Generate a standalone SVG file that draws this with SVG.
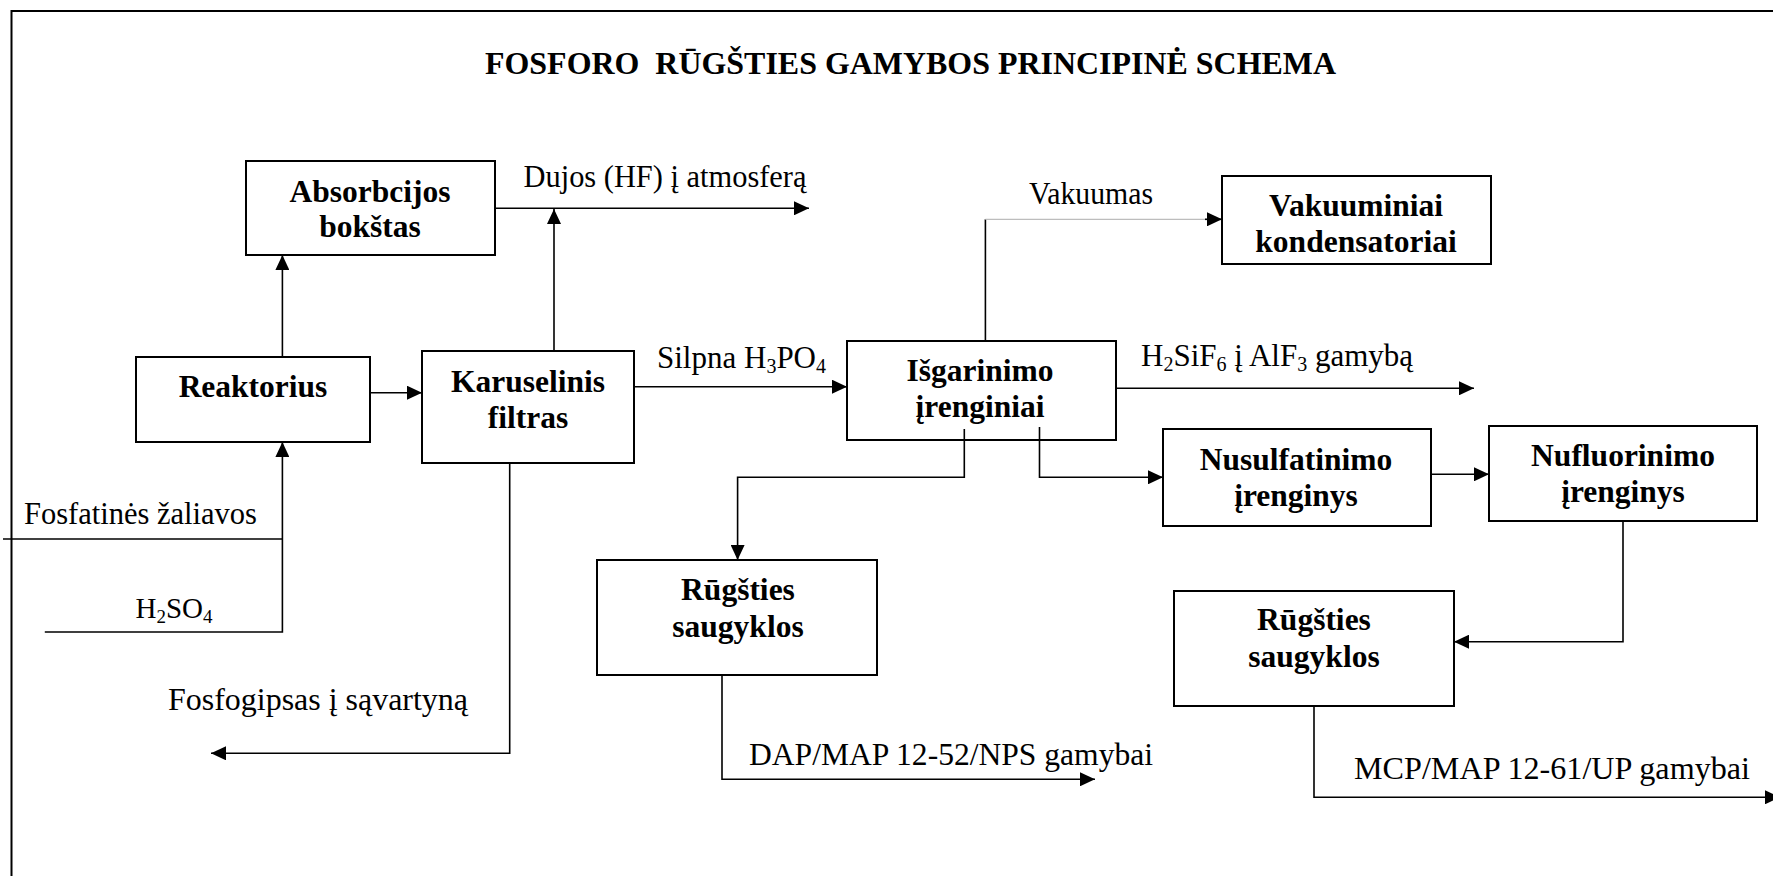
<svg xmlns="http://www.w3.org/2000/svg" width="1773" height="876" viewBox="0 0 1773 876">
  <style>
    text { font-family: "Liberation Serif", "Times New Roman", serif; fill: #000; }
    .title { font-size: 31.5px; font-weight: bold; }
    .node rect { fill: #fff; stroke: #000; stroke-width: 2; }
    .node text { font-size: 31.5px; font-weight: bold; text-anchor: middle; }
    .lbl { font-size: 31px; }
    .sub { font-size: 20px; }
    .conn { fill: none; stroke: #000; stroke-width: 1.6; }
    .grey { fill: none; stroke: #bdbdbd; stroke-width: 1.2; }
  </style>
  <defs>
    <marker id="arrow" markerUnits="userSpaceOnUse" markerWidth="15" markerHeight="14" refX="15" refY="7" orient="auto">
      <path d="M0,0 L15,7 L0,14 Z" fill="#000"/>
    </marker>
  </defs>

  <rect width="1773" height="876" fill="#fff"/>

  <!-- frame -->
  <path d="M11.5,876 V11 H1773" fill="none" stroke="#000" stroke-width="2"/>

  <text class="title" x="485" y="74" xml:space="preserve" textLength="851" lengthAdjust="spacingAndGlyphs">FOSFORO  RŪGŠTIES GAMYBOS PRINCIPINĖ SCHEMA</text>

  <!-- process units -->
  <g id="absorbcijos" class="node">
    <rect x="246" y="161" width="249" height="94"/>
    <text x="370" y="201.7">Absorbcijos</text>
    <text x="370" y="237.3">bokštas</text>
  </g>
  <g id="reaktorius" class="node">
    <rect x="136" y="357" width="234" height="85"/>
    <text x="253" y="397.3">Reaktorius</text>
  </g>
  <g id="karuselinis" class="node">
    <rect x="422" y="351" width="212" height="112"/>
    <text x="528" y="391.7">Karuselinis</text>
    <text x="528" y="428.3">filtras</text>
  </g>
  <g id="isgarinimo" class="node">
    <rect x="847" y="341" width="269" height="99"/>
    <text x="980" y="380.7">Išgarinimo</text>
    <text x="980" y="416.7">įrenginiai</text>
  </g>
  <g id="vakuuminiai" class="node">
    <rect x="1222" y="176" width="269" height="88"/>
    <text x="1356" y="216">Vakuuminiai</text>
    <text x="1356" y="252.3">kondensatoriai</text>
  </g>
  <g id="nusulfatinimo" class="node">
    <rect x="1163" y="429" width="268" height="97"/>
    <text x="1296" y="470">Nusulfatinimo</text>
    <text x="1296" y="506">įrenginys</text>
  </g>
  <g id="nufluorinimo" class="node">
    <rect x="1489" y="426" width="268" height="95"/>
    <text x="1623" y="466">Nufluorinimo</text>
    <text x="1623" y="501.7">įrenginys</text>
  </g>
  <g id="saugyklos1" class="node">
    <rect x="597" y="560" width="280" height="115"/>
    <text x="738" y="600">Rūgšties</text>
    <text x="738" y="636.7">saugyklos</text>
  </g>
  <g id="saugyklos2" class="node">
    <rect x="1174" y="591" width="280" height="115"/>
    <text x="1314" y="630">Rūgšties</text>
    <text x="1314" y="666.7">saugyklos</text>
  </g>

  <!-- connectors -->
  <g id="connectors">
    <path class="conn" d="M282.4,357 V255" marker-end="url(#arrow)"/>
    <path class="conn" d="M495,208.3 H809" marker-end="url(#arrow)"/>
    <path class="conn" d="M554,351 V209" marker-end="url(#arrow)"/>
    <path class="conn" d="M370,392.7 H422" marker-end="url(#arrow)"/>
    <path class="conn" d="M634,386.7 H847" marker-end="url(#arrow)"/>
    <path class="conn" d="M985.4,341 V219.3"/>
    <path class="grey" d="M985.4,219.3 H1208"/>
    <path class="conn" d="M1205,219.3 H1222" marker-end="url(#arrow)"/>
    <path class="conn" d="M1116,388.3 H1474" marker-end="url(#arrow)"/>
    <path class="conn" d="M964.3,429 V477.3 H737.6 V560" marker-end="url(#arrow)"/>
    <path class="conn" d="M1039.5,427 V477.3 H1163" marker-end="url(#arrow)"/>
    <path class="conn" d="M1431,474.3 H1489" marker-end="url(#arrow)"/>
    <path class="conn" d="M1623,521 V641.7 H1454" marker-end="url(#arrow)"/>
    <path class="conn" d="M1314,706 V797.3 H1780" marker-end="url(#arrow)"/>
    <path class="conn" d="M722,675 V779.3 H1095" marker-end="url(#arrow)"/>
    <path class="conn" d="M509.7,463 V753.3 H211" marker-end="url(#arrow)"/>
    <path class="conn" d="M3,539 H282.4"/>
    <path class="conn" d="M44.8,632 H282.4 V442" marker-end="url(#arrow)"/>
  </g>

  <!-- flow labels -->
  <g id="labels">
    <text class="lbl" x="523.5" y="186.7" textLength="283" lengthAdjust="spacingAndGlyphs">Dujos (HF) į atmosferą</text>
    <text class="lbl" x="657" y="368.3">Silpna H<tspan class="sub" dy="5">3</tspan><tspan dy="-5">PO</tspan><tspan class="sub" dy="5">4</tspan></text>
    <text class="lbl" x="1029" y="204" textLength="124" lengthAdjust="spacingAndGlyphs">Vakuumas</text>
    <text class="lbl" x="1141" y="366">H<tspan class="sub" dy="5">2</tspan><tspan dy="-5">SiF</tspan><tspan class="sub" dy="5">6</tspan><tspan dy="-5"> į AlF</tspan><tspan class="sub" dy="5">3</tspan><tspan dy="-5"> gamybą</tspan></text>
    <text class="lbl" x="24" y="524" textLength="233" lengthAdjust="spacingAndGlyphs">Fosfatinės žaliavos</text>
    <text class="lbl" x="135.5" y="618.3" style="font-size:29px">H<tspan class="sub" style="font-size:19px" dy="5">2</tspan><tspan dy="-5">SO</tspan><tspan class="sub" style="font-size:19px" dy="5">4</tspan></text>
    <text class="lbl" x="168" y="710" textLength="300" lengthAdjust="spacingAndGlyphs">Fosfogipsas į sąvartyną</text>
    <text class="lbl" x="749" y="765" textLength="404" lengthAdjust="spacingAndGlyphs">DAP/MAP 12-52/NPS gamybai</text>
    <text class="lbl" x="1354" y="779.3" textLength="396" lengthAdjust="spacingAndGlyphs">MCP/MAP 12-61/UP gamybai</text>
  </g>
</svg>
